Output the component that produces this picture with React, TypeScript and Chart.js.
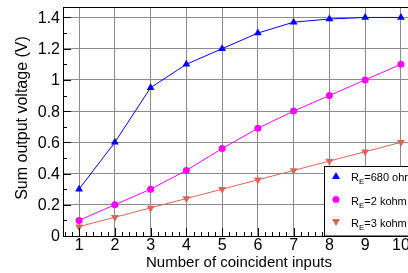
import React, { useEffect, useRef } from "react";
import { Chart, registerables } from "chart.js";

Chart.register(...registerables);

const inputs = [1, 2, 3, 4, 5, 6, 7, 8, 9, 10];
const v680 = [0.3, 0.6, 0.95, 1.1, 1.2, 1.3, 1.37, 1.39, 1.4, 1.4];
const v2k = [0.1, 0.2, 0.3, 0.42, 0.56, 0.69, 0.8, 0.9, 1.0, 1.1];
const v3k = [0.06, 0.12, 0.18, 0.24, 0.3, 0.36, 0.42, 0.48, 0.54, 0.6];
const xTickValues = [1, 2, 3, 4, 5, 6, 7, 8, 9, 10];
const yTickValues = [0, 0.2, 0.4, 0.6, 0.8, 1.0, 1.2, 1.4];
const yTickLabels = ["0", "0.2", "0.4", "0.6", "0.8", "1", "1.2", "1.4"];
const legendLabels = [
  { base: "R", sub: "E", rest: "=680 ohm" },
  { base: "R", sub: "E", rest: "=2 kohm" },
  { base: "R", sub: "E", rest: "=3 kohm" },
];
const xTitle = "Number of coincident inputs";
const yTitle = "Sum output voltage (V)";

const BLUE = "#0000ff";
const MAGENTA = "#ff00ff";
const RED = "#dd6257";
const FONT = "'Liberation Sans', Arial, Helvetica, sans-serif";

export default function App() {
  const ref = useRef<HTMLCanvasElement>(null);
  useEffect(() => {
    const canvas = ref.current!;
    const decor = {
      id: "decor",
      afterDraw(chart: any) {
        const ctx = chart.ctx as CanvasRenderingContext2D;
        const xs = chart.scales.x;
        const ys = chart.scales.y;
        const a = chart.chartArea;
        ctx.save();
        // minor/major ticks (inside)
        ctx.strokeStyle = "#000";
        ctx.lineWidth = 1;
        ctx.beginPath();
        for (let i = 0; i <= 14; i++) {
          const v = i * 0.1;
          const py = Math.round(ys.getPixelForValue(v)) + 0.5;
          const len = i % 2 === 0 ? 8 : 4;
          ctx.moveTo(a.left, py);
          ctx.lineTo(a.left + len, py);
        }
        for (let i = 3; i <= 52; i++) {
          const v = i * 0.2;
          if (v < xs.min || v > xs.max) continue;
          const px = Math.round(xs.getPixelForValue(v)) + 0.5;
          const len = i % 5 === 0 ? 8 : 4;
          ctx.moveTo(px, a.bottom);
          ctx.lineTo(px, a.bottom - len);
        }
        ctx.stroke();
        // frame
        ctx.strokeStyle = "#000";
        ctx.strokeRect(Math.round(a.left) + 0.5, Math.round(a.top) + 0.5, a.right - a.left, a.bottom - a.top);
        // tick labels
        ctx.fillStyle = "#000";
        ctx.font = `16px ${FONT}`;
        ctx.textAlign = "right";
        ctx.textBaseline = "middle";
        yTickValues.forEach((v, i) => {
          ctx.fillText(yTickLabels[i], a.left - 3, ys.getPixelForValue(v) + 1);
        });
        ctx.textAlign = "center";
        ctx.textBaseline = "middle";
        xTickValues.forEach((v) => {
          ctx.fillText(String(v), xs.getPixelForValue(v), 246);
        });
        // titles
        ctx.font = `15px ${FONT}`;
        ctx.textAlign = "center";
        ctx.fillText(xTitle, 239, 263);
        ctx.font = `16px ${FONT}`;
        ctx.save();
        ctx.translate(23, 118);
        ctx.rotate(-Math.PI / 2);
        ctx.fillText(yTitle, 0, 0);
        ctx.restore();
        // legend
        const lx = 324.5, ly = 166.5;
        ctx.fillStyle = "#fff";
        ctx.fillRect(lx, ly, 200, a.bottom - ly);
        ctx.strokeStyle = "#000";
        ctx.strokeRect(lx, ly, 200, Math.round(a.bottom) - ly);
        const rows = [176, 199.5, 222];
        const colors = [BLUE, MAGENTA, RED];
        rows.forEach((ry, i) => {
          const mx = 336;
          ctx.fillStyle = colors[i];
          ctx.beginPath();
          if (i === 0) {
            ctx.moveTo(mx, ry - 4);
            ctx.lineTo(mx + 4, ry + 3);
            ctx.lineTo(mx - 4, ry + 3);
            ctx.closePath();
          } else if (i === 1) {
            ctx.arc(mx, ry, 3.5, 0, Math.PI * 2);
          } else {
            ctx.moveTo(mx, ry + 4);
            ctx.lineTo(mx + 4, ry - 3);
            ctx.lineTo(mx - 4, ry - 3);
            ctx.closePath();
          }
          ctx.fill();
          const L = legendLabels[i];
          ctx.fillStyle = "#000";
          ctx.textAlign = "left";
          ctx.textBaseline = "alphabetic";
          ctx.font = `11px ${FONT}`;
          let tx = 351;
          ctx.fillText(L.base, tx, ry + 5);
          tx += ctx.measureText(L.base).width;
          ctx.font = `8px ${FONT}`;
          ctx.fillText(L.sub, tx, ry + 8);
          tx += ctx.measureText(L.sub).width;
          ctx.font = `11px ${FONT}`;
          ctx.fillText(L.rest, tx, ry + 5);
        });
        ctx.restore();
      },
    };
    const mk = (data: number[]) => inputs.map((x, i) => ({ x, y: data[i] }));
    const chart = new Chart(canvas, {
      type: "line",
      data: {
        datasets: [
          { label: "680", data: mk(v680), borderColor: BLUE, backgroundColor: BLUE, borderWidth: 1, pointStyle: "triangle", pointRadius: 4.5, pointBorderWidth: 0 },
          { label: "2k", data: mk(v2k), borderColor: MAGENTA, backgroundColor: MAGENTA, borderWidth: 1, pointStyle: "circle", pointRadius: 3.5, pointBorderWidth: 0 },
          { label: "3k", data: mk(v3k), borderColor: RED, backgroundColor: RED, borderWidth: 1, pointStyle: "triangle", rotation: 180, pointRadius: 4.5, pointBorderWidth: 0 },
        ],
      } as any,
      options: {
        animation: false,
        responsive: false,
        devicePixelRatio: 1,
        layout: { padding: { top: 7, right: 23, left: 0, bottom: 0 } },
        plugins: { legend: { display: false }, tooltip: { enabled: false } },
        scales: {
          x: {
            type: "linear",
            min: 0.55,
            max: 10.45,
            afterBuildTicks: (s: any) => { s.ticks = xTickValues.map((v) => ({ value: v })); },
            afterFit: (s: any) => { s.height = 37; },
            ticks: { display: false },
            grid: { color: "#8c8c8c", lineWidth: 1, drawTicks: false },
            border: { display: false },
          },
          y: {
            type: "linear",
            min: 0,
            max: 1.467,
            afterBuildTicks: (s: any) => { s.ticks = yTickValues.map((v) => ({ value: v })); },
            afterFit: (s: any) => { s.width = 63; },
            ticks: { display: false },
            grid: { color: "#8c8c8c", lineWidth: 1, drawTicks: false },
            border: { display: false },
          },
        },
      } as any,
      plugins: [decor],
    });
    return () => chart.destroy();
  }, []);
  return (
    <div style={{ position: "fixed", left: 0, top: 0, width: 440, height: 273, background: "#fff" }}>
      <canvas ref={ref} width={440} height={273} style={{ display: "block" }} />
    </div>
  );
}
